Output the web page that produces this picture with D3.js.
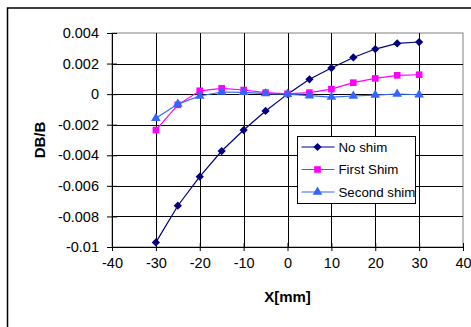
<!DOCTYPE html>
<html>
<head>
<meta charset="utf-8">
<script src="https://cdn.jsdelivr.net/npm/d3@7"></script>
<style>
  body { margin: 0; background: #fff; }
  svg { display: block; font-family: "Liberation Sans", Arial, sans-serif; }
</style>
</head>
<body>
<figure id="chart" style="margin:0"></figure>
<script>
// data
const xValues = [-30, -25, -20, -15, -10, -5, 0, 5, 10, 15, 20, 25, 30];
const noShim = [-0.0097, -0.0073, -0.0054, -0.00372, -0.00235, -0.0011, 0, 0.00097, 0.00171, 0.0024, 0.00295, 0.00332, 0.00341];
const firstShim = [-0.00235, -0.0007, 0.00022, 0.00038, 0.00027, 0.0001, 0.00002, 0.0001, 0.00033, 0.00075, 0.00103, 0.00123, 0.00127];
const secondShim = [-0.00158, -0.00065, -0.00012, 0.00014, 0.00012, 0.00004, 0, -0.0001, -0.00019, -0.00012, -0.00006, 0.00001, -0.00004];
const xTicks = [-40, -30, -20, -10, 0, 10, 20, 30, 40];
const yTicks = [0.004, 0.002, 0, -0.002, -0.004, -0.006, -0.008, -0.01];
const seriesNames = ["No shim", "First Shim", "Second shim"];

const width = 471, height = 327;
const plot = { left: 112, top: 33, right: 463, bottom: 247 };

const svg = d3.select("figure#chart")
  .append("svg")
  .attr("width", width)
  .attr("height", height);

// outer chart frame
svg.append("rect")
  .attr("x", 7.5).attr("y", 8)
  .attr("width", width).attr("height", height)
  .attr("fill", "none")
  .attr("stroke", "#000")
  .attr("stroke-width", 1.5);

const x = d3.scaleLinear().domain([-40, 40]).range([plot.left, plot.right]);
const y = d3.scaleLinear().domain([-0.01, 0.004]).range([plot.bottom, plot.top]);

// plot area border (grey)
svg.append("rect")
  .attr("x", plot.left).attr("y", plot.top)
  .attr("width", plot.right - plot.left).attr("height", plot.bottom - plot.top)
  .attr("fill", "none")
  .attr("stroke", "#808080");

// grid
svg.append("g")
  .selectAll("line")
  .data(xTicks.slice(1, -1))
  .join("line")
  .attr("x1", d => Math.round(x(d)) + 0.5).attr("x2", d => Math.round(x(d)) + 0.5)
  .attr("y1", plot.top).attr("y2", plot.bottom)
  .attr("stroke", "#000");

svg.append("g")
  .selectAll("line")
  .data(yTicks.slice(1, -1))
  .join("line")
  .attr("y1", d => Math.round(y(d)) + 0.5).attr("y2", d => Math.round(y(d)) + 0.5)
  .attr("x1", plot.left).attr("x2", plot.right)
  .attr("stroke", "#000");

// axes (cross tick marks, hyphen minus like the original)
const fmt = d => String(+d.toFixed(3));

svg.append("g")
  .attr("transform", "translate(0," + plot.bottom + ")")
  .call(d3.axisBottom(x).tickValues(xTicks).tickFormat(fmt).tickSize(4).tickSizeOuter(0).tickPadding(5))
  .call(g => g.select(".domain").attr("stroke", "#000"))
  .call(g => g.selectAll(".tick line").attr("y1", -4))
  .call(g => g.selectAll("text").attr("fill", "#000").style("font-size", "14.5px").attr("dy", "0.8em"));

svg.append("g")
  .attr("transform", "translate(" + plot.left + ",0)")
  .call(d3.axisLeft(y).tickValues(yTicks).tickFormat(fmt).tickSize(5).tickSizeOuter(0).tickPadding(8))
  .call(g => g.select(".domain").attr("stroke", "#000"))
  .call(g => g.selectAll(".tick line").attr("x1", 5))
  .call(g => g.selectAll("text").attr("fill", "#000").style("font-size", "14.5px"));

// axis titles
svg.append("text")
  .attr("x", (plot.left + plot.right) / 2)
  .attr("y", 302)
  .attr("text-anchor", "middle")
  .style("font", "bold 15px 'Liberation Sans', Arial, sans-serif")
  .text("X[mm]");

svg.append("text")
  .attr("transform", "translate(45," + ((plot.top + plot.bottom) / 2) + ") rotate(-90)")
  .attr("text-anchor", "middle")
  .style("font", "bold 15px 'Liberation Sans', Arial, sans-serif")
  .text("DB/B");

// series
const series = [
  { name: seriesNames[0], values: noShim, color: "#000080", symbol: d3.symbolSquare, size: 34, rotate: 45 },
  { name: seriesNames[1], values: firstShim, color: "#FF00FF", symbol: d3.symbolSquare, size: 44, rotate: 0 },
  { name: seriesNames[2], values: secondShim, color: "#3366FF", symbol: d3.symbolTriangle, size: 40, rotate: 0 }
];

const line = d3.line()
  .x((d, i) => x(xValues[i]))
  .y(d => y(d));

series.forEach(s => {
  svg.append("path")
    .datum(s.values)
    .attr("fill", "none")
    .attr("stroke", s.color)
    .attr("stroke-width", 1.2)
    .attr("d", line);

  svg.append("g")
    .selectAll("path")
    .data(s.values)
    .join("path")
    .attr("transform", (d, i) => "translate(" + x(xValues[i]) + "," + y(d) + ") rotate(" + s.rotate + ")")
    .attr("d", d3.symbol().type(s.symbol).size(s.size))
    .attr("fill", s.color);
});

// legend
const legend = svg.append("g").attr("transform", "translate(297.5,136.5)");
legend.append("rect")
  .attr("width", 118).attr("height", 67)
  .attr("fill", "#fff")
  .attr("stroke", "#000");

series.forEach((s, i) => {
  const cy = 10.5 + i * 22.5;
  legend.append("line")
    .attr("x1", 4).attr("x2", 37)
    .attr("y1", cy).attr("y2", cy)
    .attr("stroke", s.color)
    .attr("stroke-width", 1.2);
  legend.append("path")
    .attr("transform", "translate(20," + cy + ") rotate(" + s.rotate + ")")
    .attr("d", d3.symbol().type(s.symbol).size(s.size))
    .attr("fill", s.color);
  legend.append("text")
    .attr("x", 41).attr("y", cy)
    .attr("dy", "0.35em")
    .style("font-size", "13.3px")
    .text(s.name);
});
</script>
</body>
</html>
